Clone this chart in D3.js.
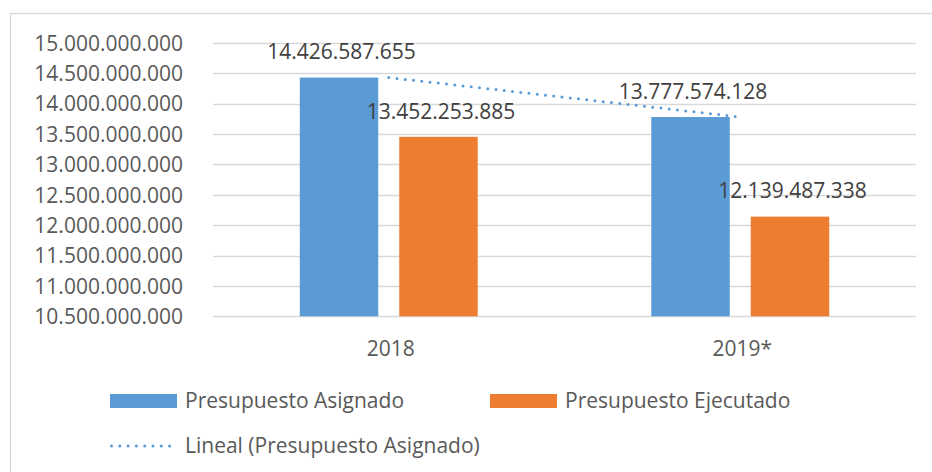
<!DOCTYPE html>
<html>
<head>
<meta charset="utf-8">
<script src="https://cdn.jsdelivr.net/npm/d3@7"></script>
<style>
  html, body { margin: 0; padding: 0; background: #fff; }
  svg { display: block; }
  text { font-family: "Open Sans", sans-serif; }
</style>
</head>
<body>
<svg id="chart" width="932" height="472"></svg>
<script>
// ---- data ----
const categories = ["2018", "2019*"];
const asignado = [14426587655, 13777574128];
const ejecutado = [13452253885, 12139487338];
const yTicks = [10500000000, 11000000000, 11500000000, 12000000000, 12500000000,
                13000000000, 13500000000, 14000000000, 14500000000, 15000000000];
const seriesNames = ["Presupuesto Asignado", "Presupuesto Ejecutado"];
const trendName = "Lineal (Presupuesto Asignado)";

// ---- styling / layout ----
const colors = ["#5B9BD5", "#ED7D31"];
const plot = { left: 213, right: 916, top: 42.7, bottom: 316.3 };
const fontSize = 21;

const loc = d3.formatLocale({ decimal: ",", thousands: ".", grouping: [3], currency: ["$", ""] });
const fmt = loc.format(",d");

const svg = d3.select("#chart");

// outer chart border
svg.append("rect")
  .attr("x", 10.5).attr("y", 13.5)
  .attr("width", 960).attr("height", 500)
  .attr("fill", "#fff").attr("stroke", "#D9D9D9").attr("stroke-width", 1.3);

const x = d3.scaleBand().domain(categories).range([plot.left, plot.right]).padding(0);
const y = d3.scaleLinear().domain([yTicks[0], yTicks[yTicks.length - 1]]).range([plot.bottom, plot.top]);

const bw = x.bandwidth();
const barW = bw * 0.2233;
const gap = bw * 0.0597;

// gridlines
svg.append("g").selectAll("line").data(yTicks).join("line")
  .attr("x1", plot.left).attr("x2", plot.right)
  .attr("y1", d => Math.round(y(d)) + 0.5).attr("y2", d => Math.round(y(d)) + 0.5)
  .attr("stroke", "#D9D9D9").attr("stroke-width", 1.3);

// y axis labels
const yAxis = d3.axisLeft(y).tickValues(yTicks).tickFormat(fmt).tickSize(0).tickPadding(0);
const yg = svg.append("g").attr("transform", `translate(183,0)`).call(yAxis);
yg.select(".domain").remove();
yg.selectAll("text")
  .attr("fill", "#595959").style("font-size", fontSize + "px")
  .style("font-family", "'Open Sans', sans-serif").attr("dy", "0.35em");

// x axis labels
const xAxis = d3.axisBottom(x).tickSize(0).tickPadding(0);
const xg = svg.append("g").attr("transform", `translate(2,${plot.bottom})`).call(xAxis);
xg.select(".domain").remove();
xg.selectAll("text")
  .attr("fill", "#595959").style("font-size", fontSize + "px")
  .style("font-family", "'Open Sans', sans-serif").attr("dy", null).attr("y", 39.5);

// bars
const seriesData = [asignado, ejecutado];
seriesData.forEach((vals, si) => {
  const offset = si === 0 ? -gap / 2 - barW : gap / 2;
  svg.append("g").selectAll("rect").data(vals).join("rect")
    .attr("x", (d, i) => x(categories[i]) + bw / 2 + offset)
    .attr("y", d => y(d))
    .attr("width", barW)
    .attr("height", d => y(yTicks[0]) - y(d))
    .attr("fill", colors[si]);
});

// trend line (linear fit of Asignado)
const n = asignado.length;
const xs = d3.range(1, n + 1);
const mx = d3.mean(xs), my = d3.mean(asignado);
const slope = d3.sum(xs.map((xi, i) => (xi - mx) * (asignado[i] - my))) / d3.sum(xs.map(xi => (xi - mx) ** 2));
const intercept = my - slope * mx;
const trendPts = xs.map((xi, i) => [x(categories[i]) + bw / 2, y(intercept + slope * xi)]);
svg.append("path")
  .attr("d", d3.line()(trendPts))
  .attr("fill", "none").attr("stroke", colors[0]).attr("stroke-width", 3)
  .attr("stroke-linecap", "round").attr("stroke-dasharray", "0 8.3");

// data labels
seriesData.forEach((vals, si) => {
  const offset = si === 0 ? -gap / 2 - barW / 2 : gap / 2 + barW / 2;
  svg.append("g").selectAll("text").data(vals).join("text")
    .attr("x", (d, i) => x(categories[i]) + bw / 2 + offset + 2.5)
    .attr("y", d => y(d) - 18.3)
    .attr("text-anchor", "middle")
    .attr("fill", "#404040").style("font-size", fontSize + "px")
    .text(d => fmt(d));
});

// legend
const leg = svg.append("g");
const legItems = [
  { name: seriesNames[0], type: "rect", color: colors[0], x: 110, y: 401 },
  { name: seriesNames[1], type: "rect", color: colors[1], x: 490, y: 401 },
  { name: trendName, type: "line", color: colors[0], x: 110, y: 446 }
];
legItems.forEach(it => {
  if (it.type === "rect") {
    leg.append("rect").attr("x", it.x).attr("y", it.y - 7).attr("width", 67).attr("height", 14).attr("fill", it.color);
  } else {
    leg.append("line").attr("x1", it.x + 1.5).attr("x2", it.x + 67).attr("y1", it.y).attr("y2", it.y)
      .attr("stroke", it.color).attr("stroke-width", 3).attr("stroke-linecap", "round").attr("stroke-dasharray", "0 8.3");
  }
  leg.append("text").attr("x", it.x + 75).attr("y", it.y).attr("dy", "0.35em")
    .attr("fill", "#595959").style("font-size", fontSize + "px").text(it.name);
});
</script>
</body>
</html>
